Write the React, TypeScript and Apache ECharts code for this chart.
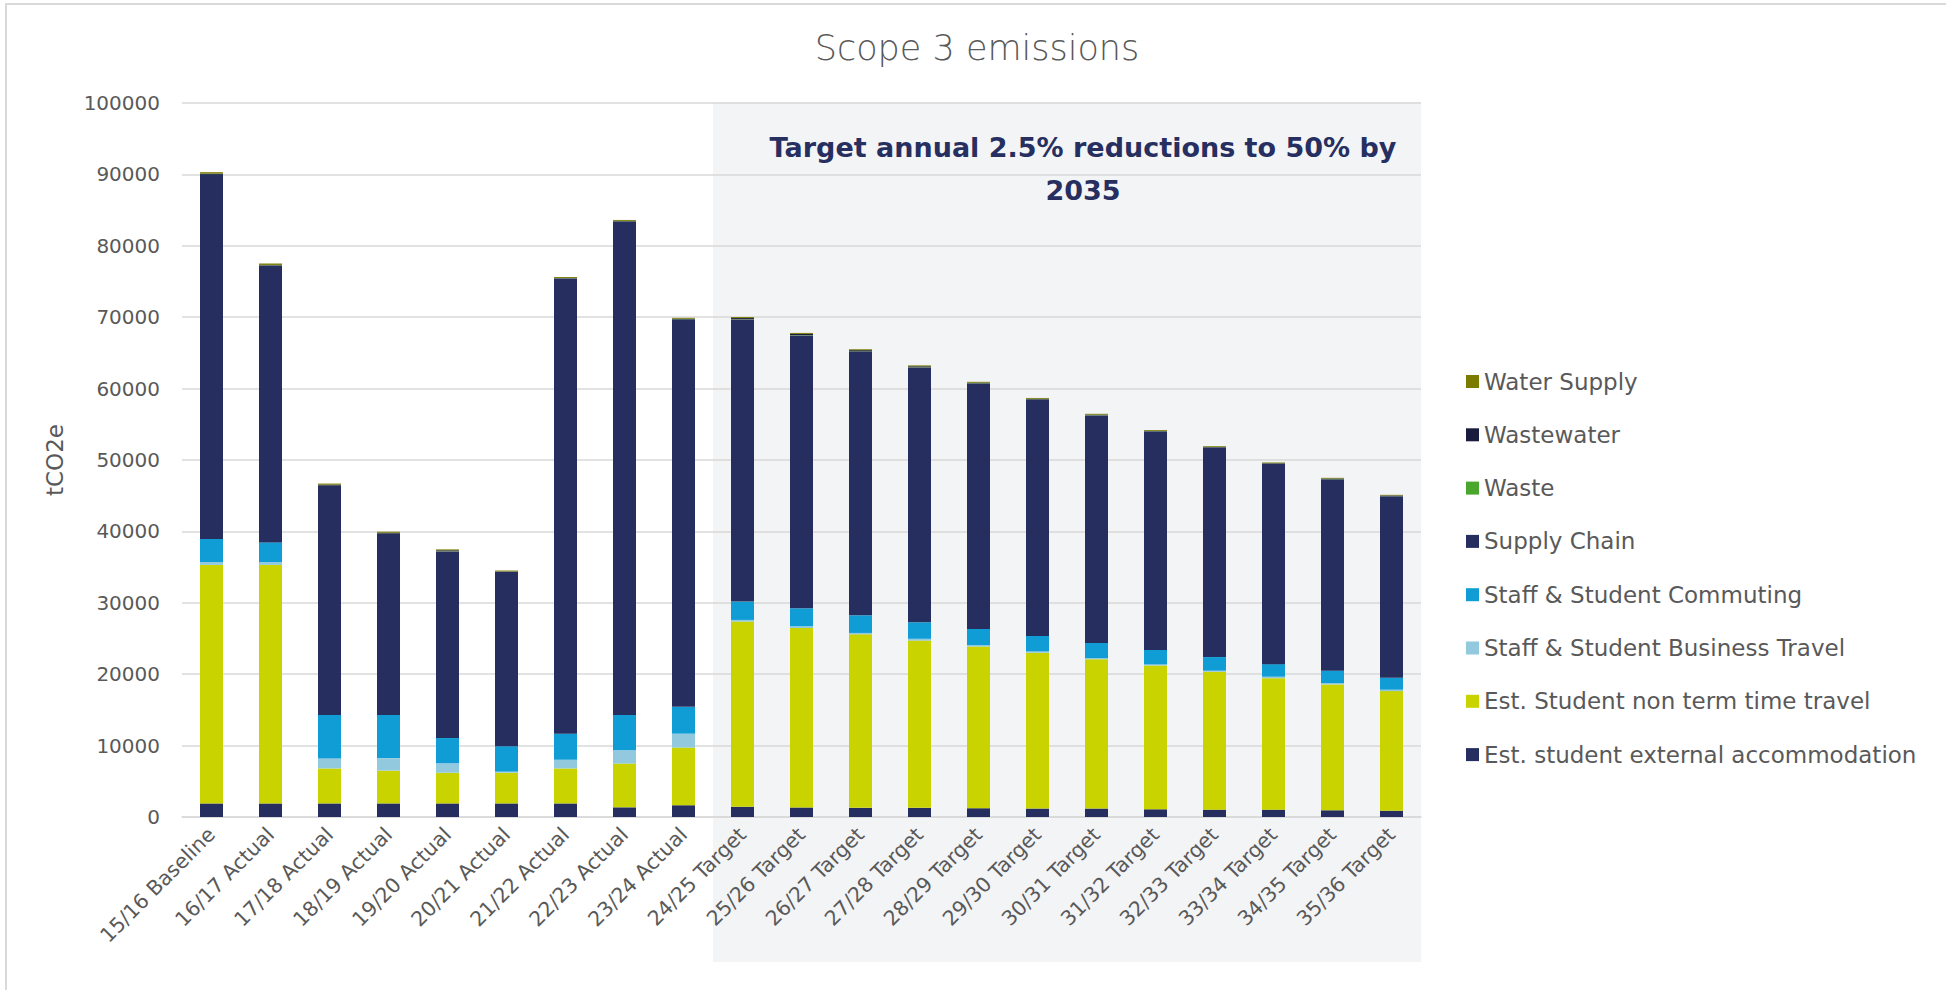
import React, { useEffect, useRef } from "react";
import * as echarts from "echarts";

const categories = [
  "15/16 Baseline", "16/17 Actual", "17/18 Actual", "18/19 Actual", "19/20 Actual",
  "20/21 Actual", "21/22 Actual", "22/23 Actual", "23/24 Actual", "24/25 Target",
  "25/26 Target", "26/27 Target", "27/28 Target", "28/29 Target", "29/30 Target",
  "30/31 Target", "31/32 Target", "32/33 Target", "33/34 Target", "34/35 Target",
  "35/36 Target",
];

const accommodation = [1900, 1900, 1900, 1900, 1900, 1900, 1900, 1350, 1650, 1430, 1330, 1280, 1280, 1230, 1180, 1180, 1080, 1030, 1030, 940, 880];
const nonTermTravel = [33400, 33400, 4900, 4600, 4300, 4300, 4900, 6130, 8070, 25940, 25140, 24310, 23430, 22650, 21820, 20920, 20140, 19310, 18420, 17630, 16750];
const businessTravel = [400, 400, 1400, 1750, 1330, 150, 1220, 1880, 1950, 230, 250, 190, 250, 190, 190, 150, 150, 150, 200, 200, 200];
const commuting = [3240, 2760, 6090, 6040, 3530, 3570, 3650, 4930, 3760, 2570, 2510, 2470, 2310, 2260, 2160, 2120, 2020, 1910, 1760, 1720, 1670];
const supplyChain = [51100, 38790, 32070, 25370, 26140, 24400, 63730, 69110, 54270, 39490, 38220, 36930, 35660, 34380, 33110, 31880, 30600, 29320, 28050, 26820, 25440];
const waste = [30, 30, 40, 30, 30, 20, 30, 30, 30, 40, 40, 40, 40, 40, 30, 30, 30, 30, 30, 30, 30];
const wastewater = [40, 40, 150, 130, 120, 60, 60, 60, 60, 180, 170, 160, 150, 80, 80, 70, 70, 70, 60, 60, 60];
const waterSupply = [200, 200, 150, 140, 130, 120, 130, 130, 120, 140, 140, 130, 130, 120, 120, 120, 110, 110, 100, 100, 90];

const yTicks = { min: 0, max: 100000, interval: 10000 };

const seriesDefs = [
  { name: "Est. student external accommodation", data: accommodation, color: "#252e5f" },
  { name: "Est. Student non term time travel", data: nonTermTravel, color: "#c8d300" },
  { name: "Staff & Student Business Travel", data: businessTravel, color: "#93c9df" },
  { name: "Staff & Student Commuting", data: commuting, color: "#109dd5" },
  { name: "Supply Chain", data: supplyChain, color: "#252e5f" },
  { name: "Waste", data: waste, color: "#4aa62c" },
  { name: "Wastewater", data: wastewater, color: "#191c3c" },
  { name: "Water Supply", data: waterSupply, color: "#7b7b00" },
];

const legendOrder = [
  "Water Supply", "Wastewater", "Waste", "Supply Chain", "Staff & Student Commuting",
  "Staff & Student Business Travel", "Est. Student non term time travel",
  "Est. student external accommodation",
];

const annotation = "Target annual 2.5% reductions to 50% by\n2035";

export default function App() {
  const ref = useRef<HTMLDivElement>(null);
  useEffect(() => {
    if (!ref.current) return;
    const chart = echarts.init(ref.current, undefined, { renderer: "svg" });
    const font = "'DejaVu Sans', sans-serif";
    chart.setOption({
      animation: false,
      backgroundColor: "#ffffff",
      textStyle: { fontFamily: font },
      title: {
        text: "Scope 3 emissions",
        left: 972,
        textAlign: "center",
        top: 25,
        textStyle: { fontFamily: font, fontSize: 35, fontWeight: 200, color: "#595959" },
      },
      grid: { left: 182, right: 525, top: 103, bottom: 173, containLabel: false },
      legend: {
        orient: "vertical",
        left: 1461,
        top: 365,
        data: legendOrder,
        icon: "rect",
        itemWidth: 13,
        itemHeight: 13,
        itemGap: 30.3,
        textStyle: { fontFamily: font, fontSize: 23, color: "#595959", lineHeight: 23 },
        selectedMode: false,
      },
      xAxis: {
        type: "category",
        data: categories,
        axisTick: { show: false },
        axisLine: { show: true, lineStyle: { color: "#d9d9d9", width: 1.5 } },
        axisLabel: { rotate: 45, interval: 0, margin: 14, fontSize: 20.5, color: "#595959", fontFamily: font },
      },
      yAxis: {
        type: "value",
        min: yTicks.min,
        max: yTicks.max,
        interval: yTicks.interval,
        name: "tCO2e",
        nameLocation: "middle",
        nameGap: 116,
        nameTextStyle: { fontFamily: font, fontSize: 23, color: "#595959" },
        axisLine: { show: false },
        axisTick: { show: false },
        splitLine: { lineStyle: { color: "#d9d9d9", width: 1.5 } },
        axisLabel: {
          margin: 22,
          fontSize: 20,
          color: "#595959",
          fontFamily: font,
          formatter: (v: number) => String(v),
        },
      },
      graphic: [
        {
          type: "rect",
          z: -10,
          silent: true,
          shape: { x: 713, y: 102, width: 708, height: 860 },
          style: { fill: "#f3f4f6" },
        },
        {
          type: "rect",
          z: 100,
          silent: true,
          shape: { x: 6, y: 4, width: 1960, height: 1000 },
          style: { fill: "none", stroke: "#d9d9d9", lineWidth: 2 },
        },
        {
          type: "text",
          z: 100,
          x: 1083,
          y: 126,
          style: {
            text: annotation,
            fontFamily: font,
            fontSize: 27,
            fontWeight: "bold",
            lineHeight: 43,
            fill: "#262f5f",
            textAlign: "center",
          },
        },
      ],
      series: seriesDefs.map((s) => ({
        name: s.name,
        type: "bar",
        stack: "total",
        barWidth: 23,
        data: s.data,
        itemStyle: { color: s.color },
        emphasis: { disabled: true },
      })),
    });
    return () => chart.dispose();
  }, []);
  return (
    <div
      ref={ref}
      style={{ position: "fixed", left: 0, top: 0, width: 1946, height: 990 }}
    />
  );
}
